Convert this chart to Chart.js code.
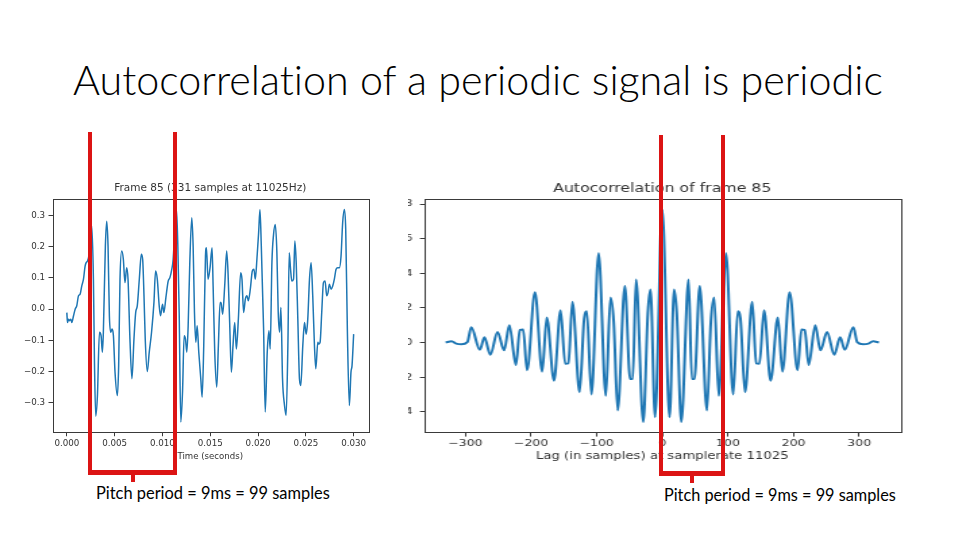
<!DOCTYPE html>
<html>
<head>
<meta charset="utf-8">
<title>Autocorrelation of a periodic signal is periodic</title>
<script src="https://cdn.jsdelivr.net/npm/chart.js@4.4.1/dist/chart.umd.min.js"></script>
<style>
  html, body { margin: 0; padding: 0; background: #fff; }
  body { width: 960px; height: 540px; position: relative; overflow: hidden; }
  .txt { position: absolute; white-space: nowrap; font-family: Lato, "Open Sans", sans-serif; color: #000; line-height: 1; font-variant-ligatures: none; }
  #title { font-weight: 300; font-size: 42px; }
  .note { font-size: 16px; }
  #frame { position: absolute; left: 0; top: 170px; }
  #acWrap { position: absolute; left: 408px; top: 170px; width: 502px; height: 300px; overflow: hidden; }
  #acWrap canvas { position: absolute; left: -28px; top: 0; transform: scaleX(1.35); transform-origin: 0 0; }
  .red { position: absolute; background: #dc1414; z-index: 5; }
</style>
</head>
<body>
<span id="title" class="txt">Autocorrelation of a periodic signal is periodic</span>

<canvas id="frame" width="380" height="300"></canvas>
<div id="acWrap"><canvas id="ac" width="393" height="300"></canvas></div>

<!-- red brackets -->
<div class="red" style="left:88px;top:132px;width:4px;height:343px"></div>
<div class="red" style="left:173px;top:132px;width:4px;height:343px"></div>
<div class="red" style="left:88px;top:470px;width:89px;height:5px"></div>
<div class="red" style="left:131px;top:474px;width:4px;height:8px"></div>
<div class="red" style="left:659px;top:135px;width:4px;height:341px"></div>
<div class="red" style="left:721px;top:135px;width:4px;height:341px"></div>
<div class="red" style="left:659px;top:471px;width:66px;height:5px"></div>
<div class="red" style="left:690px;top:475px;width:4px;height:8px"></div>

<span id="note1" class="txt note">Pitch period = 9ms = 99 samples</span>
<span id="note2" class="txt note">Pitch period = 9ms = 99 samples</span>

<script>
// frame 85: time (s) and amplitude
const frameTime = [
  0.00000,0.00007,0.00017,0.00028,0.00042,0.00052,0.00070,0.00087,0.00104,0.00122,
  0.00139,0.00156,0.00174,0.00191,0.00202,0.00216,0.00233,0.00261,0.00278,0.00289,
  0.00302,0.00320,0.00341,0.00358,0.00372,0.00382,0.00403,0.00417,0.00431,0.00445,
  0.00459,0.00473,0.00487,0.00504,0.00528,0.00542,0.00556,0.00574,0.00591,0.00608,
  0.00626,0.00640,0.00660,0.00681,0.00702,0.00720,0.00737,0.00758,0.00779,0.00793,
  0.00807,0.00820,0.00841,0.00862,0.00886,0.00911,0.00928,0.00946,0.00966,0.00980,
  0.01001,0.01015,0.01036,0.01060,0.01078,0.01098,0.01112,0.01130,0.01147,0.01161,
  0.01175,0.01192,0.01210,0.01227,0.01241,0.01255,0.01269,0.01286,0.01307,0.01321,
  0.01335,0.01349,0.01363,0.01380,0.01401,0.01415,0.01432,0.01450,0.01460,0.01477,
  0.01498,0.01519,0.01530,0.01547,0.01568,0.01585,0.01603,0.01613,0.01630,0.01651,
  0.01672,0.01686,0.01703,0.01721,0.01738,0.01756,0.01773,0.01794,0.01818,0.01832,
  0.01849,0.01867,0.01884,0.01898,0.01919,0.01940,0.01957,0.01971,0.01988,0.02006,
  0.02020,0.02034,0.02058,0.02075,0.02096,0.02114,0.02127,0.02145,0.02162,0.02180,
  0.02197,0.02211,0.02225,0.02239,0.02256,0.02277,0.02294,0.02312,0.02326,0.02340,
  0.02353,0.02371,0.02385,0.02399,0.02416,0.02433,0.02447,0.02468,0.02486,0.02503,
  0.02520,0.02538,0.02555,0.02572,0.02590,0.02604,0.02625,0.02635,0.02649,0.02666,
  0.02684,0.02701,0.02718,0.02732,0.02746,0.02764,0.02781,0.02798,0.02816,0.02833,
  0.02851,0.02868,0.02885,0.02903,0.02917,0.02934,0.02955,0.02972,0.02983,0.03000
];
const frameAmp = [
  -0.011,-0.043,-0.032,-0.037,-0.032,-0.043,-0.021,0.000,0.011,0.043,
  0.048,0.074,0.096,0.138,0.149,0.154,0.176,0.266,0.096,-0.170,
  -0.343,-0.277,-0.074,-0.085,-0.138,-0.074,0.202,0.282,0.202,-0.021,
  -0.074,-0.064,-0.085,-0.202,-0.277,-0.181,0.096,0.186,0.160,0.085,
  0.133,0.096,-0.096,-0.223,-0.096,-0.011,0.011,0.096,0.176,0.160,
  0.043,-0.096,-0.200,-0.138,-0.074,0.021,0.122,0.096,0.011,-0.021,
  0.016,-0.011,0.037,0.090,0.101,0.128,0.160,0.255,0.319,0.202,
  -0.011,-0.362,-0.266,-0.085,-0.096,-0.138,-0.053,0.149,0.293,0.202,
  -0.011,-0.106,-0.053,-0.138,-0.223,-0.282,-0.117,0.170,0.197,0.096,
  0.133,0.197,0.074,-0.138,-0.250,-0.117,0.021,0.021,-0.016,0.074,
  0.186,0.117,-0.043,-0.202,-0.117,-0.043,-0.128,-0.032,0.117,0.096,
  -0.011,0.032,0.043,0.027,0.064,0.122,0.128,0.096,0.160,0.245,
  0.319,0.202,-0.064,-0.330,-0.138,-0.069,-0.128,0.149,0.239,0.271,
  0.181,-0.011,-0.074,0.005,-0.223,-0.309,-0.340,-0.117,0.181,0.128,
  0.090,0.096,0.218,0.149,-0.032,-0.223,-0.245,-0.117,-0.043,-0.080,
  -0.032,0.096,0.149,0.043,-0.117,-0.191,-0.106,-0.112,-0.106,-0.011,
  0.085,0.090,0.043,0.053,0.080,0.064,0.074,0.096,0.128,0.133,
  0.133,0.170,0.277,0.319,0.255,-0.064,-0.309,-0.202,-0.181,-0.080
];
const frameTicksX = [0, 0.005, 0.010, 0.015, 0.020, 0.025, 0.030];
const frameTicksY = [-0.3, -0.2, -0.1, 0.0, 0.1, 0.2, 0.3];

// autocorrelation: lag (samples) and value at the turning points
const lagSamples = [
  -330,-321,-314,-306,-297,-291,-278,-271,-262,-251,-241,-233,-223,-217,-212,-206,
  -194,-183,-176,-165,-155,-148,-143,-137,-126,-119,-115,-108,-97,-86,-79,-74,
  -68,-57,-49,-45,-40,-29,-22,-18,-11,
  0,
  11,18,22,29,40,45,49,57,68,74,79,86,97,108,115,119,126,137,143,148,
  155,165,176,183,194,206,212,217,223,233,241,251,262,271,278,291,297,306,314,321,330
];
const acValues = [
  0,0.08,-0.06,-0.1,0.02,0.88,-0.42,0.3,-0.7,0.61,-0.45,1.0,-1.3,0.73,0.75,-1.6,
  2.91,-1.68,1.45,-2.2,1.86,-1.22,-1.2,2.35,-2.87,1.4,1.8,-3.0,5.15,-3.08,2.6,1.2,
  -3.92,3.27,-2.11,-2.11,3.64,-4.59,1.72,3.06,-4.31,
  7.66,
  -4.31,3.06,1.72,-4.59,3.64,-2.11,-2.11,3.27,-3.92,1.2,2.6,-3.08,5.15,-3.0,1.8,1.4,-2.87,2.35,-1.2,-1.22,
  1.86,-2.2,1.45,-1.68,2.91,-1.6,0.75,0.73,-1.3,1.0,-0.45,0.61,-0.7,0.3,-0.42,0.88,0.02,-0.1,-0.06,0.08,0
];
const lagTicks = [-300, -200, -100, 0, 100, 200, 300];
const acTicks = [-4, -2, 0, 2, 4, 6, 8];

const ink = '#333';
const spine = '#3a3a3a';
const blue = '#1f77b4';
const minus = s => s.replace('-', '\u2212');

// full box round the plot, like matplotlib spines
const box = {
  id: 'box',
  afterDraw(c) {
    const a = c.chartArea, ctx = c.ctx;
    ctx.save();
    ctx.strokeStyle = spine;
    ctx.lineWidth = 1;
    ctx.strokeRect(Math.round(a.left) + 0.5, Math.round(a.top) + 0.5,
                   Math.round(a.right - a.left), Math.round(a.bottom - a.top));
    ctx.restore();
  }
};

Chart.defaults.font.family = 'DejaVu Sans';

new Chart(document.getElementById('frame'), {
  type: 'line',
  data: {
    datasets: [{
      data: frameTime.map((t, i) => ({ x: t, y: frameAmp[i] })),
      borderColor: blue,
      borderWidth: 1.5,
      pointRadius: 0,
      cubicInterpolationMode: 'monotone'
    }]
  },
  options: {
    responsive: false,
    animation: false,
    events: [],
    layout: { padding: { top: 10, right: 12, bottom: 7.8, left: 0 } },
    plugins: {
      legend: { display: false },
      tooltip: { enabled: false },
      title: {
        display: true, fullSize: false,
        text: 'Frame 85 (331 samples at 11025Hz)',
        color: ink, font: { size: 10.5, weight: 'normal' },
        padding: { top: 2, bottom: 4.4 }
      }
    },
    scales: {
      x: {
        type: 'linear', min: -0.0015, max: 0.0315,
        afterBuildTicks: s => { s.ticks = frameTicksX.map(v => ({ value: v })); },
        ticks: { callback: v => v.toFixed(3), color: ink, font: { size: 8.7 }, padding: 1.8, maxRotation: 0, autoSkip: false },
        grid: { drawOnChartArea: false, tickLength: 4, tickColor: spine },
        border: { display: false },
        title: { display: true, text: 'Time (seconds)', color: ink, font: { size: 8.6 }, padding: { top: 1.6, bottom: 0 } }
      },
      y: {
        min: -0.3945, max: 0.353,
        afterBuildTicks: s => { s.ticks = frameTicksY.map(v => ({ value: v })); },
        afterFit: s => { s.width = 52.5; },
        ticks: { callback: v => minus(v.toFixed(1)), color: ink, font: { size: 8.7 }, padding: 3.5, autoSkip: false },
        grid: { drawOnChartArea: false, tickLength: 4, tickColor: spine },
        border: { display: false }
      }
    }
  },
  plugins: [box]
});

new Chart(document.getElementById('ac'), {
  type: 'line',
  data: {
    datasets: [{
      data: lagSamples.map((l, i) => ({ x: l, y: acValues[i] })),
      borderColor: blue,
      borderWidth: 2,
      pointRadius: 0,
      cubicInterpolationMode: 'monotone'
    }]
  },
  options: {
    responsive: false,
    animation: false,
    events: [],
    layout: { padding: { top: 10, right: 7.4, bottom: 7.7, left: 0 } },
    plugins: {
      legend: { display: false },
      tooltip: { enabled: false },
      title: {
        display: true, fullSize: false,
        text: 'Autocorrelation of frame 85',
        color: ink, font: { size: 11.7, weight: 'normal' },
        padding: { top: 2, bottom: 3.3 }
      }
    },
    scales: {
      x: {
        type: 'linear', min: -363, max: 363,
        afterBuildTicks: s => { s.ticks = lagTicks.map(v => ({ value: v })); },
        ticks: { callback: v => minus(String(v)), color: ink, font: { size: 9.3 }, padding: 1.4, maxRotation: 0, autoSkip: false },
        grid: { drawOnChartArea: false, tickLength: 4, tickColor: spine },
        border: { display: false },
        title: { display: true, text: 'Lag (in samples) at samplerate 11025', color: ink, font: { size: 9.8 }, padding: { top: 0, bottom: 0 } }
      },
      y: {
        min: -5.2, max: 8.27,
        afterBuildTicks: s => { s.ticks = acTicks.map(v => ({ value: v })); },
        afterFit: s => { s.width = 32.6; },
        ticks: { callback: v => minus(String(v)), color: ink, font: { size: 9.3 }, padding: 5.5, autoSkip: false },
        grid: { drawOnChartArea: false, tickLength: 3, tickColor: spine },
        border: { display: false }
      }
    }
  },
  plugins: [box]
});

// fit slide texts to the widths they take in the picture, Lato baseline ~0.887em
function place(id, left, baseline, width) {
  const el = document.getElementById(id);
  const fs = parseFloat(getComputedStyle(el).fontSize);
  const nfs = fs * width / el.getBoundingClientRect().width;
  el.style.fontSize = nfs + 'px';
  el.style.left = left + 'px';
  el.style.top = (baseline - 0.887 * nfs) + 'px';
}
place('title', 73, 96, 810);
place('note1', 96, 500, 234);
place('note2', 664, 501.5, 232);
</script>
</body>
</html>
